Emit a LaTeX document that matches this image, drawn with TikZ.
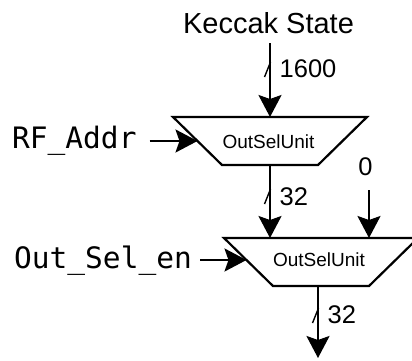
\documentclass[tikz,border=0pt]{standalone}
\usepackage{fontspec}
\setmainfont{Liberation Sans}
\newfontfamily\monofont{DejaVu Sans Mono}
\usetikzlibrary{arrows.meta,calc}
\begin{document}
\begin{tikzpicture}[x=1pt,y=-1pt,
  wire/.style={line width=2.2pt, -{Stealth[length=22pt,width=23pt,inset=4pt]}},
  unit/.style={line width=2.2pt, fill=white, line join=miter},
  busmark/.style={line width=1.4pt},
  big/.style={font=\fontsize{29}{34}\selectfont, inner sep=0pt},
  num/.style={font=\fontsize{25.5}{30}\selectfont, inner sep=0pt, anchor=base west},
  sig/.style={font=\monofont\fontsize{29.5}{34}\selectfont, inner ysep=0pt},
  utext/.style={font=\fontsize{19}{23}\selectfont, inner sep=0pt}]
\useasboundingbox (0,0) rectangle (412,360);

% ---- first unit
\coordinate (u1) at (270,141);
\draw[unit] ($(u1)+(-97,-24)$) -- ($(u1)+(97,-24)$) -- ($(u1)+(48,24)$) -- ($(u1)+(-48,24)$) -- cycle;
\node[utext, anchor=base] (t1) at (268.5,148.3) {OutSelUnit};
\coordinate (u1n) at ($(u1)+(0,-24)$);
\coordinate (u1s) at ($(u1)+(0,24)$);
\coordinate (u1w) at ($(u1)+(-72.5,0)$);

% ---- second unit
\coordinate (u2) at (321,262);
\draw[unit] ($(u2)+(-97,-24)$) -- ($(u2)+(97,-24)$) -- ($(u2)+(48,24)$) -- ($(u2)+(-48,24)$) -- cycle;
\node[utext, anchor=base] (t2) at (319,266.7) {OutSelUnit};
\coordinate (u2n) at ($(u2)+(0,-24)$);
\coordinate (u2r) at ($(u2)+(48,-24)$);
\coordinate (u2w) at ($(u2)+(-74.5,-2)$);
\coordinate (u2o) at ($(u2)+(-3,24)$);
\coordinate (out) at ($(u2o)+(0,72)$);

% ---- Keccak state input
\node[big, anchor=base] (ks) at (268.5,33) {Keccak State};
\draw[wire] ($(ks.south -| u1n)+(0,10)$) -- (u1n);
\coordinate (s1) at ($(u1n)+(0,-47)$);
\draw[busmark] ($(s1)+(-5.5,7)$) -- ($(s1)+(0.5,-8)$);
\node[num] (n1) at (279.5,77) {1600};

% ---- RF_Addr
\node[sig, anchor=base west, inner xsep=13pt] (ra) at (-1,148.3) {RF\_Addr};
\draw[wire] (ra.east |- u1w) -- (u1w);

% ---- link between units
\draw[wire] (u1s) -- (u1s |- u2n);
\coordinate (s2) at ($(u1s)+(0,32)$);
\draw[busmark] ($(s2)+(-5.5,7)$) -- ($(s2)+(0.5,-8)$);
\node[num] (n2) at (279.5,205) {32};

% ---- constant 0
\node[num, anchor=base] (z) at (365.5,175) {0};
\draw[wire] ($(z.south -| u2r)+(0,15)$) -- (u2r);

% ---- Out_Sel_en
\node[sig, anchor=base west, inner xsep=8pt] (os) at (6,268) {Out\_Sel\_en};
\draw[wire] (os.east |- u2w) -- (u2w);

% ---- output
\draw[wire] (u2o) -- (out);
\coordinate (s3) at ($(u2o)+(0,30)$);
\draw[busmark] ($(s3)+(-5.5,7)$) -- ($(s3)+(0.5,-8)$);
\node[num] (n3) at (327.5,323) {32};
\end{tikzpicture}
\end{document}
